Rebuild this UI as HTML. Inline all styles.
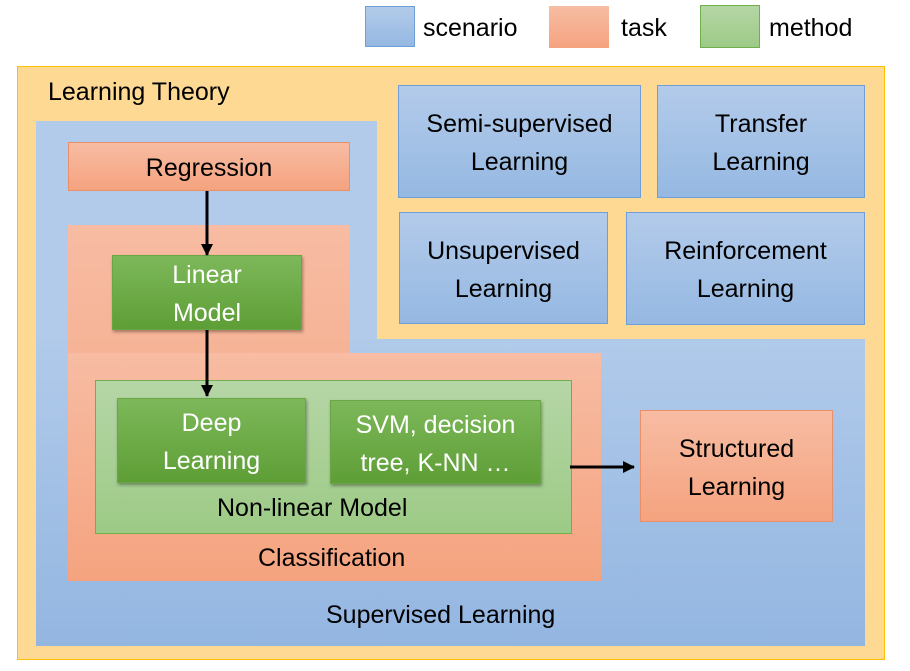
<!DOCTYPE html>
<html><head><meta charset="utf-8"><style>
body{margin:0;width:910px;height:671px;background:#fff;position:relative;overflow:hidden;font-family:"Liberation Sans",sans-serif;}
div{position:absolute;box-sizing:border-box;}
.t{display:flex;align-items:center;justify-content:center;text-align:center;font-size:25px;line-height:38px;color:#000;padding-top:3px;}
.blue{background:linear-gradient(#b3cbea,#95b8e2);}
.bb{border:1.5px solid #6e9fd8;}
.sal{background:linear-gradient(#f7bca3,#f5a37f);}
.grn{background:linear-gradient(#7db85a,#5e9e36);color:#fff;box-shadow:1px 2px 3px rgba(0,0,0,.35);border:1px solid #6aa644;}
.lg{background:linear-gradient(#b5d6a6,#9dca86);border:1px solid #70b04c;}
.lab{font-size:25px;color:#000;white-space:nowrap;}
</style></head><body>
<div class="blue bb" style="left:365px;top:6px;width:50px;height:41px;"></div>
<div class="lab" style="left:423px;top:14px;">scenario</div>
<div class="sal" style="left:549px;top:6px;width:60px;height:42px;"></div>
<div class="lab" style="left:621px;top:14px;">task</div>
<div class="lg" style="left:700px;top:5px;width:60px;height:43px;"></div>
<div class="lab" style="left:769px;top:14px;">method</div>

<div style="left:17px;top:66px;width:868px;height:594px;background:#fed993;border:1.5px solid #ffc000;"></div>
<div class="lab" style="left:48px;top:78px;">Learning Theory</div>

<div class="blue" style="left:36px;top:121px;width:341px;height:230px;background:#b3cbea;"></div>
<div class="blue" style="left:36px;top:339px;width:829px;height:307px;background:linear-gradient(#b1caea,#93b6e1);"></div>

<div class="sal t" style="left:68px;top:142px;width:282px;height:49px;border:1px solid #e8906a;">Regression</div>

<div style="left:68px;top:225px;width:282px;height:356px;background:linear-gradient(#f7bca3,#f5a37f);"></div>
<div style="left:68px;top:353px;width:533px;height:228px;background:linear-gradient(#f7bca3,#f5a37f);"></div>

<div class="grn t" style="left:112px;top:255px;width:190px;height:75px;color:#fff;">Linear<br>Model</div>

<div class="lg" style="left:95px;top:380px;width:477px;height:154px;"></div>
<div class="grn t" style="left:117px;top:398px;width:189px;height:85px;color:#fff;">Deep<br>Learning</div>
<div class="grn t" style="left:330px;top:400px;width:211px;height:84px;color:#fff;">SVM, decision<br>tree, K-NN …</div>
<div class="lab" style="left:217px;top:494px;">Non-linear Model</div>
<div class="lab" style="left:258px;top:544px;">Classification</div>
<div class="lab" style="left:326px;top:601px;">Supervised Learning</div>

<div class="sal t" style="left:640px;top:410px;width:193px;height:112px;border:1px solid #e8906a;">Structured<br>Learning</div>

<div class="blue bb t" style="left:398px;top:85px;width:243px;height:113px;">Semi-supervised<br>Learning</div>
<div class="blue bb t" style="left:657px;top:85px;width:208px;height:113px;">Transfer<br>Learning</div>
<div class="blue bb t" style="left:399px;top:212px;width:209px;height:112px;">Unsupervised<br>Learning</div>
<div class="blue bb t" style="left:626px;top:212px;width:239px;height:113px;">Reinforcement<br>Learning</div>

<svg style="position:absolute;left:0;top:0" width="910" height="671">
<defs><marker id="a" markerWidth="12" markerHeight="12" refX="11" refY="6" orient="auto" markerUnits="userSpaceOnUse"><path d="M0,0 L12,6 L0,12z" fill="#000"/></marker></defs>
<line x1="207" y1="191" x2="207" y2="255" stroke="#000" stroke-width="3" marker-end="url(#a)"/>
<line x1="207" y1="330" x2="207" y2="396" stroke="#000" stroke-width="3" marker-end="url(#a)"/>
<line x1="570" y1="467" x2="634" y2="467" stroke="#000" stroke-width="3" marker-end="url(#a)"/>
</svg>
</body></html>
